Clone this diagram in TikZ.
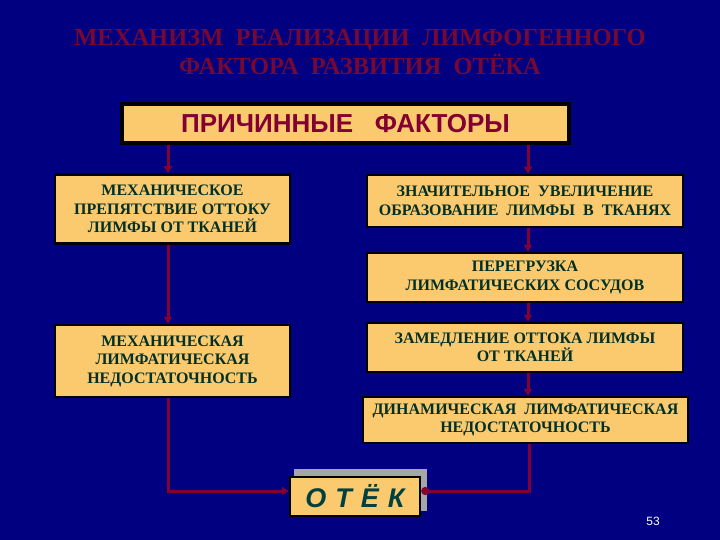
\documentclass[tikz,border=0pt]{standalone}
\usepackage{fontspec}
\setmainfont{Liberation Serif}
\newfontfamily\arialf{Liberation Sans}
\usetikzlibrary{arrows.meta}
\definecolor{bg}{RGB}{0,0,128}
\definecolor{boxfill}{RGB}{252,202,110}
\definecolor{ttl}{RGB}{118,8,50}
\definecolor{maroon}{RGB}{130,0,50}
\definecolor{txtc}{RGB}{0,48,40}
\definecolor{otekc}{RGB}{0,64,64}
\tikzset{
  fbox/.style={draw=black, line width=2.5pt, fill=boxfill, inner sep=0pt, align=center,
    font=\fontsize{16}{18.5}\selectfont\bfseries, text=txtc},
  conn/.style={draw=maroon, line width=3pt, -{Triangle[length=7pt,width=8pt]}},
  connl/.style={draw=maroon, line width=3pt},
}
\begin{document}
\begin{tikzpicture}[x=1pt,y=-1pt]
\fill[bg] (0,0) rectangle (720,540);
\useasboundingbox (0,0) rectangle (720,540);
% title
\node[text=ttl, font=\fontsize{24.5}{29}\selectfont\bfseries, align=center] (title) at (360,52)
  {МЕХАНИЗМ\ \ РЕАЛИЗАЦИИ\ \ ЛИМФОГЕННОГО\\ФАКТОРА\ \ РАЗВИТИЯ\ \ ОТЁКА};
% main box
\node[draw=black, line width=4pt, fill=boxfill, minimum width=447pt, minimum height=39pt, inner sep=0pt,
  font=\arialf\fontsize{26}{28}\selectfont\bfseries, text=maroon] (pf) at (345.5,123.5)
  {ПРИЧИННЫЕ\ \ \ ФАКТОРЫ};
% left boxes
\node[fbox, minimum width=235pt, minimum height=69pt] (l1) at (172.5,209) {МЕХАНИЧЕСКОЕ\\ПРЕПЯТСТВИЕ ОТТОКУ\\ЛИМФЫ ОТ ТКАНЕЙ};
\node[fbox, minimum width=235pt, minimum height=72pt] (l2) at (172.5,361) {МЕХАНИЧЕСКАЯ\\ЛИМФАТИЧЕСКАЯ\\НЕДОСТАТОЧНОСТЬ};
% right boxes
\node[fbox, minimum width=316pt, minimum height=52pt] (r1) at (525,201) {ЗНАЧИТЕЛЬНОЕ\ \ УВЕЛИЧЕНИЕ\\ОБРАЗОВАНИЕ\ \ ЛИМФЫ\ \ В\ \ ТКАНЯХ};
\node[fbox, minimum width=316pt, minimum height=49pt] (r2) at (525,277.5) {ПЕРЕГРУЗКА\\ЛИМФАТИЧЕСКИХ СОСУДОВ};
\node[fbox, minimum width=316pt, minimum height=49pt] (r3) at (525,347.5) {ЗАМЕДЛЕНИЕ ОТТОКА ЛИМФЫ\\ОТ ТКАНЕЙ};
\node[fbox, minimum width=325pt, minimum height=46pt] (r4) at (525.5,420) {ДИНАМИЧЕСКАЯ\ \ ЛИМФАТИЧЕСКАЯ\\НЕДОСТАТОЧНОСТЬ};
% otek
\fill[gray!70] (294,469) rectangle (427,511);
\node[draw=black, line width=2.5pt, fill=boxfill, minimum width=130pt, minimum height=39pt, inner sep=0pt,
  font=\arialf\fontsize{27}{30}\selectfont\bfseries\itshape, text=otekc] (otek) at (355,496.5)
  {О\,\,Т\,\,Ё\,\,К};
% page number
\node[text=white, font=\arialf\fontsize{12}{14}\selectfont] (pn) at (653,521) {53};
% connectors
\draw[conn] (pf.south -| 168,0) -- (l1.north -| 168,0);
\draw[conn] (pf.south -| 528,0) -- (r1.north -| 528,0);
\draw[conn] (l1.south -| 168,0) -- (l2.north -| 168,0);
\draw[conn] (r1.south -| 528,0) -- (r2.north -| 528,0);
\draw[conn] (r2.south -| 528,0) -- (r3.north -| 528,0);
\draw[conn] (r3.south -| 528,0) -- (r4.north -| 528,0);
\coordinate (lc) at (168,491);
\coordinate (rc) at (529,491);
\draw[conn] (l2.south -| lc) -- (lc) -- (otek.west |- lc);
\draw[connl, -{Circle[length=8pt]}] (r4.south -| rc) -- (rc) -- (otek.east |- rc);
\end{tikzpicture}
\end{document}
